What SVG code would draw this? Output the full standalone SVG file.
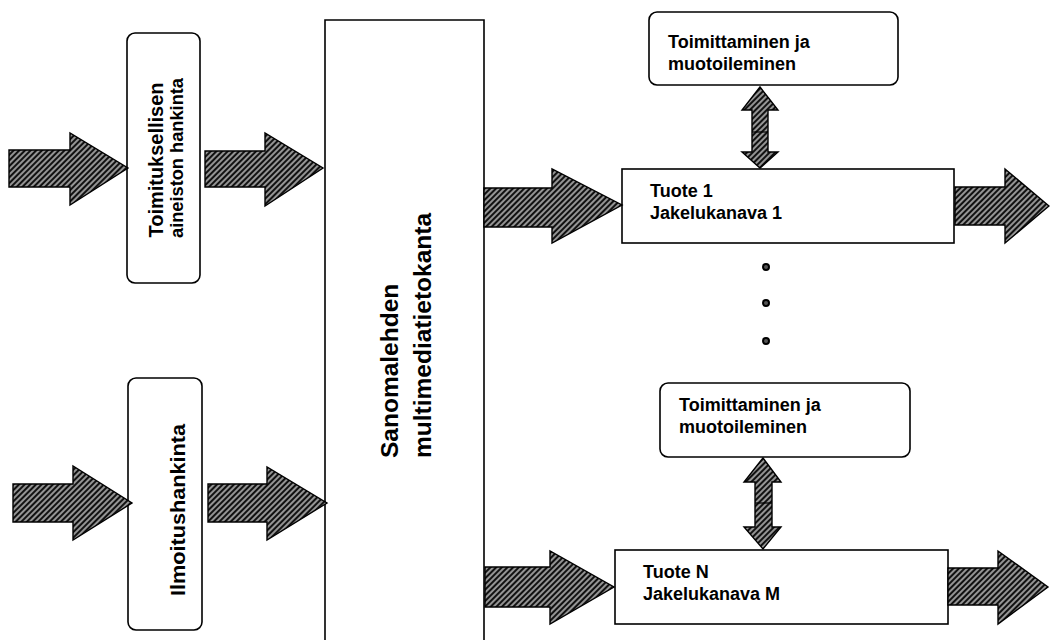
<svg xmlns="http://www.w3.org/2000/svg" width="1050" height="640" viewBox="0 0 1050 640">
  <defs>
    <!-- diagonal hatch used for all block arrows -->
    <pattern id="hatch" patternUnits="userSpaceOnUse" width="4" height="4" patternTransform="rotate(-45)">
      <rect width="4" height="4" fill="#111"/>
      <line x1="0" y1="2" x2="4" y2="2" stroke="#fff" stroke-width="1.1"/>
    </pattern>
    <style>
      .box { fill: #fff; stroke: #000; stroke-width: 1.6; }
      .arrow { fill: url(#hatch); stroke: #000; stroke-width: 1.4; stroke-linejoin: miter; }
      .lbl { font-family: "Liberation Sans", Arial, sans-serif; font-weight: bold; font-size: 18px; fill: #000; }
      .side { font-size: 19.5px; }
      .big { font-size: 24.5px; }
      .dot { fill: #555; stroke: #000; stroke-width: 2; }
    </style>
  </defs>

  <!-- central database column -->
  <g id="database">
    <path class="box" d="M325,660 V20 H484 V660"/>
    <text class="lbl big" transform="translate(398,458) rotate(-90)">Sanomalehden</text>
    <text class="lbl big" transform="translate(431,458) rotate(-90)">multimediatietokanta</text>
  </g>

  <g id="editorial-acquisition">
    <rect class="box" x="127" y="33" width="73" height="250" rx="8"/>
    <text class="lbl side" text-anchor="middle" textLength="155" lengthAdjust="spacingAndGlyphs" transform="translate(163,160) rotate(-90)">Toimituksellisen</text>
    <text class="lbl side" text-anchor="middle" style="font-size:18.5px" textLength="160" lengthAdjust="spacingAndGlyphs" transform="translate(183,158) rotate(-90)">aineiston hankinta</text>
  </g>

  <g id="ad-acquisition">
    <rect class="box" x="128" y="378" width="74" height="252" rx="8"/>
    <text class="lbl side" text-anchor="middle" textLength="172" lengthAdjust="spacingAndGlyphs" transform="translate(185,510) rotate(-90)">Ilmoitushankinta</text>
  </g>

  <g id="editing-1">
    <rect class="box" x="649" y="12" width="249" height="73" rx="8"/>
    <text class="lbl" x="668" y="48">Toimittaminen ja</text>
    <text class="lbl" x="668" y="70">muotoileminen</text>
  </g>

  <g id="product-1">
    <rect class="box" x="622" y="169" width="332" height="74"/>
    <text class="lbl" x="650" y="197">Tuote 1</text>
    <text class="lbl" x="650" y="219">Jakelukanava 1</text>
  </g>

  <g id="editing-n">
    <rect class="box" x="660" y="383" width="250" height="74" rx="8"/>
    <text class="lbl" x="679" y="411">Toimittaminen ja</text>
    <text class="lbl" x="679" y="433">muotoileminen</text>
  </g>

  <g id="product-n">
    <rect class="box" x="615" y="550" width="333" height="74"/>
    <text class="lbl" x="643" y="578">Tuote N</text>
    <text class="lbl" x="643" y="600">Jakelukanava M</text>
  </g>

  <g id="ellipsis">
    <circle class="dot" cx="766" cy="267" r="3"/>
    <circle class="dot" cx="766" cy="303" r="3"/>
    <circle class="dot" cx="766" cy="341" r="3"/>
  </g>

  <g id="connectors">
    <!-- inputs -->
    <polygon class="arrow" points="9,150 70,150 70,133 128,168 70,205 70,187 9,187"/>
    <polygon class="arrow" points="205,151 265,151 265,133 323,168 265,206 265,187 205,187"/>
    <polygon class="arrow" points="13,484 73,484 73,466 132,503 73,540 73,522 13,522"/>
    <polygon class="arrow" points="208,484 267,484 267,467 327,503 267,540 267,522 208,522"/>
    <!-- database to products -->
    <polygon class="arrow" points="484,188 552,188 552,169 622,205 552,243 552,227 484,227"/>
    <polygon class="arrow" points="485,567 550,567 550,551 614,587 550,624 550,607 485,607"/>
    <!-- products out -->
    <polygon class="arrow" points="955,187 1005,187 1005,169 1049,206 1005,243 1005,225 955,225"/>
    <polygon class="arrow" points="948,568 998,568 998,551 1048,587 998,624 998,605 948,605"/>
    <!-- editing exchanges -->
    <polygon class="arrow" points="760,87 778,110 768,110 768,152 778,152 760,168 742,152 752,152 752,110 742,110"/>
    <line x1="752" y1="132" x2="768" y2="132" stroke="#000" stroke-width="1.2"/>
    <polygon class="arrow" points="763,458 781,482 772,482 772,527 781,527 763,549 744,527 755,527 755,482 744,482"/>
    <line x1="755" y1="503" x2="772" y2="503" stroke="#000" stroke-width="1.2"/>
  </g>
</svg>
